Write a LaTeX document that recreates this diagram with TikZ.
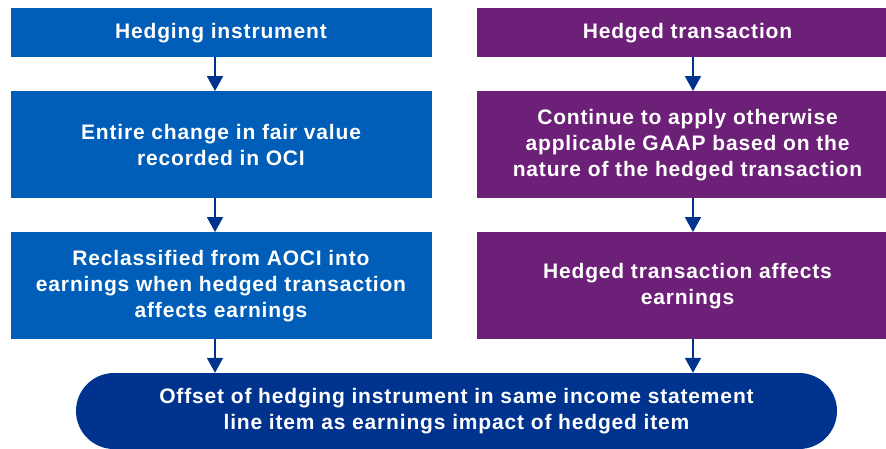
\documentclass[tikz,border=0pt]{standalone}
\usepackage{fontspec}
\setmainfont{Liberation Sans}[LetterSpace=4]
\usetikzlibrary{arrows.meta}
\definecolor{kblue}{HTML}{005EB8}
\definecolor{kpurple}{HTML}{6D2077}
\definecolor{kdark}{HTML}{00338D}
\tikzset{
  boxbase/.style={rectangle, inner sep=0pt, minimum width=421pt, text=white,
    font=\fontsize{21}{26}\selectfont\bfseries, align=center},
  bluebox/.style={boxbase, fill=kblue},
  purplebox/.style={boxbase, fill=kpurple},
  endbox/.style={boxbase, fill=kdark, minimum width=761pt, minimum height=76pt, rounded corners=38pt},
  arr/.style={draw=kdark, line width=1.8pt, -{Triangle[width=16pt,length=15pt]}}
}
\begin{document}
\begin{tikzpicture}[x=1pt,y=-1pt]
\useasboundingbox (0,0) rectangle (886,448);
\begin{scope}
\clip (0,0) rectangle (886,448);
\node[bluebox, minimum height=49pt] (L1) at (221,32.75) {Hedging instrument};
\node[bluebox, minimum height=107pt] (L2) at (221,144.75) {Entire change in fair value\\recorded in OCI};
\node[bluebox, minimum height=107pt] (L3) at (221,285.75) {Reclassified from AOCI into\\earnings when hedged transaction\\affects earnings};
\node[purplebox, minimum height=49pt] (R1) at (687.5,32.75) {Hedged transaction};
\node[purplebox, minimum height=107pt] (R2) at (687.5,144.75) {Continue to apply otherwise\\applicable GAAP based on the\\nature of the hedged transaction};
\node[purplebox, minimum height=107pt] (R3) at (687.5,285.75) {Hedged transaction affects\\earnings};
\node[endbox] (B) at (456.5,411) {Offset of hedging instrument in same income statement\\line item as earnings impact of hedged item};
\end{scope}
\draw[arr] ([xshift=-6pt]L1.south) -- ([xshift=-6pt]L2.north);
\draw[arr] ([xshift=-6pt]L2.south) -- ([xshift=-6pt]L3.north);
\draw[arr] ([xshift=-6pt]L3.south) -- ([xshift=-6pt]L3.south |- B.north);
\draw[arr] ([xshift=5.5pt]R1.south) -- ([xshift=5.5pt]R2.north);
\draw[arr] ([xshift=5.5pt]R2.south) -- ([xshift=5.5pt]R3.north);
\draw[arr] ([xshift=5.5pt]R3.south) -- ([xshift=5.5pt]R3.south |- B.north);
\end{tikzpicture}
\end{document}
